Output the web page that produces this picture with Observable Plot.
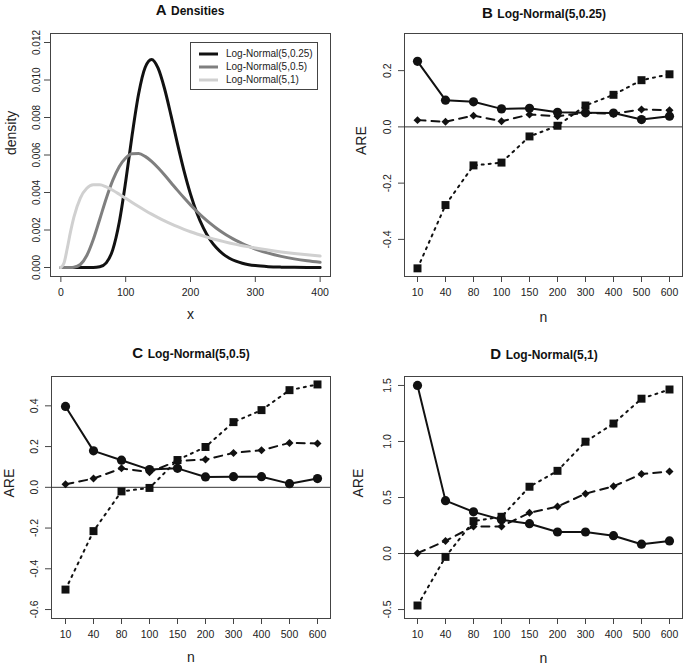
<!DOCTYPE html>
<html>
<head>
<meta charset="utf-8">
<script src="https://cdn.jsdelivr.net/npm/d3@7"></script>
<script src="https://cdn.jsdelivr.net/npm/@observablehq/plot@0.6"></script>
<style>
  body { margin: 0; background: #fff; font-family: "Liberation Sans", Arial, sans-serif; }
  #root { position: relative; width: 685px; height: 668px; overflow: hidden; background: #fff; }
  .panel { position: absolute; }
  .title { position: absolute; transform: translateX(-50%); white-space: nowrap; font-weight: bold; color: #111; line-height: 16px; }
  .title .big { font-size: 15px; }
  .title .small { font-size: 12px; }
  #legend { position: absolute; border: 1px solid #444; background: #fff; font-size: 10px; color: #222; }
  #legend .row { display: flex; align-items: center; height: 13px; }
  #legend svg { margin: 0 8px 0 8px; }
  .axlab { font-size: 14px; }
</style>
</head>
<body>
<div id="root"></div>
<script>
// ---------------- Data ----------------
// Panel A: density curves
const densX = [0,5,10,15,20,30,40,50,60,70,80,90,100,110,120,130,140,150,160,170,180,190,200,210,220,230,240,250,260,270,280,290,300,320,340,360,380,400];
const dens025 = [0,0,0,0,0,0,0,0,0.0000376,0.000249,0.00094,0.002395,0.004586,0.007078,0.009266,0.010667,0.011092,0.010629,0.009533,0.0081,0.006581,0.005155,0.003916,0.002898,0.002101,0.001494,0.001048,0.000725,0.000496,0.000337,0.000227,0.000152,0.000101,0.000044,0.000019,0.000008,0.000003,0.000001];
const dens05 = [0,0,0,0,0.000013,0.00016,0.000641,0.001496,0.002577,0.003684,0.004647,0.005375,0.005841,0.006063,0.006075,0.005926,0.00566,0.005318,0.004931,0.004523,0.004114,0.003717,0.003339,0.002986,0.002661,0.002363,0.002094,0.001852,0.001637,0.001444,0.001273,0.001121,0.000988,0.000766,0.000594,0.000461,0.000358,0.000279];
const dens1 = [0,0.000254,0.001049,0.001924,0.002677,0.003705,0.004223,0.004415,0.004412,0.004297,0.00412,0.003911,0.00369,0.003467,0.00325,0.003042,0.002845,0.00266,0.002486,0.002325,0.002175,0.002037,0.001908,0.001789,0.001678,0.001576,0.001481,0.001393,0.001311,0.001235,0.001165,0.001099,0.001038,0.000928,0.000832,0.000748,0.000675,0.00061];
const densLabels = ["Log-Normal(5,0.25)", "Log-Normal(5,0.5)", "Log-Normal(5,1)"];
const densColors = ["#111111", "#7f7f7f", "#d0d0d0"];
const densXTicks = [0,100,200,300,400];
const densYTicks = [0,0.002,0.004,0.006,0.008,0.010,0.012];

// Panels B-D: ARE by sample size n
const nLabels = ["10","40","80","100","150","200","300","400","500","600"];

const bCircle  = [0.233,0.095,0.089,0.064,0.066,0.052,0.050,0.049,0.026,0.038];
const bDiamond = [0.024,0.018,0.040,0.020,0.044,0.038,0.050,0.047,0.062,0.059];
const bSquare  = [-0.503,-0.278,-0.137,-0.127,-0.034,0.004,0.076,0.114,0.166,0.187];
const bTicks = [-0.4,-0.2,0,0.2];

const cCircle  = [0.397,0.179,0.133,0.087,0.093,0.051,0.052,0.052,0.018,0.043];
const cDiamond = [0.015,0.043,0.093,0.074,0.130,0.136,0.169,0.182,0.218,0.215];
const cSquare  = [-0.502,-0.215,-0.020,-0.003,0.134,0.198,0.320,0.379,0.477,0.505];
const cTicks = [-0.6,-0.4,-0.2,0,0.2,0.4];

const dCircle  = [1.500,0.472,0.372,0.301,0.266,0.192,0.192,0.159,0.083,0.112];
const dDiamond = [0.003,0.112,0.242,0.242,0.363,0.419,0.534,0.600,0.709,0.732];
const dSquare  = [-0.464,-0.030,0.289,0.328,0.596,0.738,0.998,1.160,1.382,1.464];
const dTicks = [-0.5,0,0.5,1.0,1.5];

const titles = [
  {letter: "A", text: "Densities", cx: 190, top: 2},
  {letter: "B", text: "Log-Normal(5,0.25)", cx: 544, top: 5},
  {letter: "C", text: "Log-Normal(5,0.5)", cx: 191, top: 345},
  {letter: "D", text: "Log-Normal(5,1)", cx: 544, top: 346}
];

// ---------------- Rendering ----------------
const root = document.getElementById("root");
const FONT = '"Liberation Sans", Arial, sans-serif';
const fmt1 = d => d.toFixed(1);

function place(node, left, top) {
  const div = document.createElement("div");
  div.className = "panel";
  div.style.left = left + "px";
  div.style.top = top + "px";
  div.appendChild(node);
  root.appendChild(div);
}

// Panel A
const densRows = [];
[dens025, dens05, dens1].forEach((arr, k) => {
  arr.forEach((v, i) => densRows.push({x: densX[i], y: v, s: densLabels[k]}));
});

const plotA = Plot.plot({
  width: 342, height: 330,
  marginLeft: 50, marginRight: 12, marginTop: 33, marginBottom: 54,
  style: {fontFamily: FONT, fontSize: "10.5px", color: "#222", background: "#fff"},
  x: {domain: [-16, 416], axis: null},
  y: {domain: [-0.00048, 0.01248], axis: null},
  color: {domain: densLabels, range: densColors},
  marks: [
    Plot.frame({stroke: "#444"}),
    Plot.axisX({ticks: densXTicks, tickSize: 6, tickPadding: 6, label: null, stroke: "#444"}),
    Plot.axisY({ticks: densYTicks, tickFormat: d3.format(".3f"), tickRotate: -90, tickSize: 6, tickPadding: 5, fontSize: 10, label: null, stroke: "#444"}),
    Plot.line(densRows, {x: "x", y: "y", z: "s", stroke: "s", strokeWidth: 3, curve: "monotone-x"}),
    Plot.text(["x"], {text: d => d, frameAnchor: "bottom", dy: 42, className: "axlab"}),
    Plot.text(["density"], {text: d => d, frameAnchor: "left", dx: -39, rotate: -90, className: "axlab"})
  ]
});
place(plotA, 0, 0);

// Legend for panel A
const legend = document.createElement("div");
legend.id = "legend";
legend.style.left = "190px";
legend.style.top = "42px";
legend.style.width = "128px";
legend.style.height = "48px";
legend.style.paddingTop = "4px";
legend.style.boxSizing = "border-box";
densLabels.forEach((lab, k) => {
  const row = document.createElement("div");
  row.className = "row";
  row.innerHTML = `<svg width="19" height="6"><line x1="0" x2="19" y1="3" y2="3" stroke="${densColors[k]}" stroke-width="3"/></svg><span>${lab}</span>`;
  legend.appendChild(row);
});
root.appendChild(legend);

function arePanel(circ, diam, sq, domain, ticks, opts) {
  const rows = nLabels.map((n, i) => ({n, c: circ[i], d: diam[i], s: sq[i]}));
  return Plot.plot({
    width: opts.width, height: opts.height,
    marginLeft: opts.ml, marginRight: opts.mr, marginTop: opts.mt, marginBottom: opts.mb,
    style: {fontFamily: FONT, fontSize: "10.5px", color: "#222", background: "#fff"},
    x: {type: "point", domain: nLabels, padding: 0.36, axis: null},
    y: {domain, axis: null},
    marks: [
      Plot.frame({stroke: "#444"}),
      Plot.ruleY([0], {stroke: "#333", strokeWidth: 1}),
      Plot.axisX({tickSize: 6, tickPadding: 6, label: null, stroke: "#444"}),
      Plot.axisY({ticks, tickFormat: fmt1, tickRotate: -90, tickSize: 6, tickPadding: opts.tp, label: null, stroke: "#444"}),
      Plot.line(rows, {x: "n", y: "s", stroke: "#111", strokeWidth: 2, strokeDasharray: "2,5"}),
      Plot.line(rows, {x: "n", y: "d", stroke: "#111", strokeWidth: 2, strokeDasharray: "8,6"}),
      Plot.line(rows, {x: "n", y: "c", stroke: "#111", strokeWidth: 2}),
      Plot.dot(rows, {x: "n", y: "s", symbol: "square", r: 4.5, fill: "#111"}),
      Plot.dot(rows, {x: "n", y: "d", symbol: "diamond2", r: 3.6, fill: "#111"}),
      Plot.dot(rows, {x: "n", y: "c", symbol: "circle", r: 4.6, fill: "#111"}),
      Plot.text(["n"], {text: d => d, frameAnchor: "bottom", dy: opts.ndy, className: "axlab"}),
      Plot.text(["ARE"], {text: d => d, frameAnchor: "left", dx: opts.adx, rotate: -90, className: "axlab"})
    ]
  });
}

place(arePanel(bCircle, bDiamond, bSquare, [-0.532, 0.332], bTicks,
  {width: 343, height: 330, ml: 62, mr: 3, mt: 33, mb: 54, tp: 8, ndy: 45, adx: -43}), 342, 0);
place(arePanel(cCircle, cDiamond, cSquare, [-0.644, 0.544], cTicks,
  {width: 342, height: 334, ml: 51, mr: 12, mt: 42, mb: 50, tp: 8, ndy: 43, adx: -42}), 0, 334);
place(arePanel(dCircle, dDiamond, dSquare, [-0.58, 1.58], dTicks,
  {width: 343, height: 334, ml: 62, mr: 3, mt: 42, mb: 50, tp: 8, ndy: 44, adx: -46}), 342, 334);

// Titles
titles.forEach(t => {
  const div = document.createElement("div");
  div.className = "title";
  div.style.left = t.cx + "px";
  div.style.top = t.top + "px";
  div.innerHTML = `<span class="big">${t.letter}</span> <span class="small">${t.text}</span>`;
  root.appendChild(div);
});
</script>
</body>
</html>
